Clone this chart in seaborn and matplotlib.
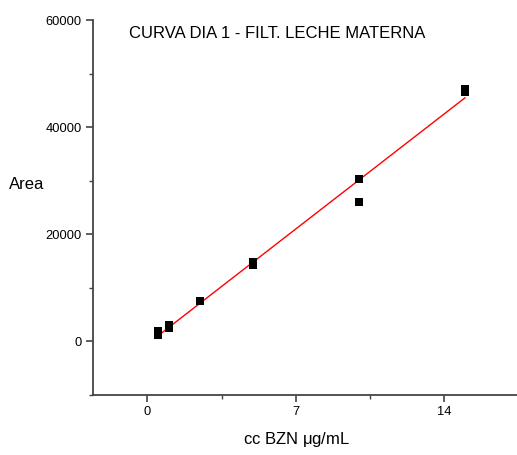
import numpy as np
import pandas as pd
import matplotlib
matplotlib.use("Agg")
import matplotlib.pyplot as plt
from matplotlib.ticker import MultipleLocator
import seaborn as sns

# Calibration points: concentration (µg/mL) and peak area
conc = [0.5, 0.5, 1, 1, 2.5, 5, 5, 10, 10, 15, 15]
area = [2000, 1200, 2500, 3100, 7500, 14300, 14800, 30300, 26100, 46500, 47200]

x_ticks = [0, 7, 14]
y_ticks = [0, 20000, 40000, 60000]

df = pd.DataFrame({"conc": conc, "area": area})

sns.set_style("white")
plt.rcParams["font.family"] = ["Liberation Sans", "DejaVu Sans"]
plt.rcParams["mathtext.fontset"] = "custom"
plt.rcParams["mathtext.rm"] = "Liberation Sans"
plt.rcParams["mathtext.it"] = "Liberation Sans"
plt.rcParams["text.color"] = "black"
plt.rcParams["axes.labelcolor"] = "black"

fig = plt.figure(figsize=(5.17, 4.55), dpi=100)
ax = fig.add_axes([0.18, 0.132, 0.82, 0.824])

sns.regplot(data=df, x="conc", y="area", ax=ax, ci=None, truncate=True,
            marker="s",
            scatter_kws=dict(color="black", alpha=1, s=34, linewidths=0, zorder=3),
            line_kws=dict(color="red", lw=1, zorder=2))

ax.set_xlim(-2.57, 17.45)
ax.set_ylim(-10000, 60000)
ax.set_xticks(x_ticks)
ax.set_yticks(y_ticks)
ax.xaxis.set_minor_locator(MultipleLocator(3.5))
ax.yaxis.set_minor_locator(MultipleLocator(10000))

for side in ("top", "right"):
    ax.spines[side].set_visible(False)
for side in ("left", "bottom"):
    ax.spines[side].set_color("#444444")
    ax.spines[side].set_linewidth(1.3)

ax.tick_params(which="major", direction="out", length=5, width=1.2,
               color="#444444", labelcolor="black", labelsize=9.3, pad=3,
               left=True, bottom=True)
ax.tick_params(which="minor", direction="out", length=3, width=1.0,
               color="#444444", left=True, bottom=True)

ax.set_xlabel("cc BZN $\\mu$g/mL", fontsize=12, va="center")
ax.xaxis.set_label_coords(0.48, -0.12)
ax.set_ylabel("Area", fontsize=12, rotation=0, va="center", ha="center")
ax.yaxis.set_label_coords(-0.157, 0.56)

ax.text(0.435, 0.965, "CURVA DIA 1 - FILT. LECHE MATERNA", transform=ax.transAxes,
        ha="center", va="center", fontsize=12)

fig.savefig("out.png", dpi=100)
